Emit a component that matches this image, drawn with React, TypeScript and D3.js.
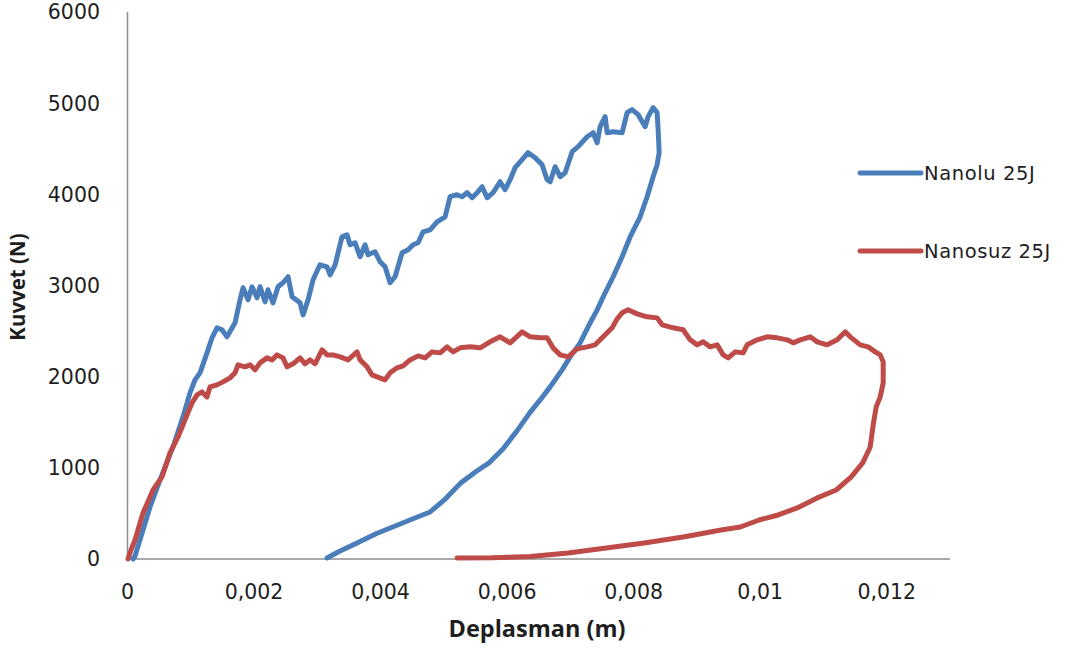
import React from "react";
import * as d3 from "d3";

// Deplasman (m), Kuvvet (N)
const nanoluX = [0.000087,0.000119,0.000245,0.000356,0.000514,0.000719,0.000877,0.000988,0.001067,0.001146,0.001257,0.001336,0.001415,0.001494,0.001573,0.0017,0.001779,0.001826,0.001905,0.001968,0.002047,0.002095,0.002174,0.002221,0.0023,0.002379,0.002458,0.002538,0.002601,0.002664,0.002727,0.002775,0.002854,0.002933,0.003043,0.003154,0.003202,0.003281,0.003391,0.00347,0.003518,0.003597,0.003676,0.003755,0.003802,0.003913,0.003992,0.004071,0.00415,0.004229,0.00434,0.004435,0.004514,0.004593,0.004672,0.004783,0.004893,0.00502,0.005099,0.005209,0.005288,0.005368,0.005447,0.005526,0.005605,0.005684,0.005779,0.005889,0.005968,0.006047,0.006126,0.006237,0.006332,0.006443,0.006553,0.006632,0.00668,0.006759,0.006838,0.006917,0.007028,0.007122,0.007265,0.00736,0.007423,0.00747,0.007549,0.007581,0.007676,0.007818,0.007897,0.007976,0.008071,0.008182,0.008229,0.008308,0.008371,0.008387,0.008403,0.008371,0.008308,0.008213,0.008103,0.007945,0.007818,0.007676,0.007549,0.007423,0.00728,0.007154,0.006996,0.006869,0.00668,0.006522,0.006357,0.00615,0.005937,0.005725,0.00551,0.005268,0.005026,0.004783,0.004542,0.00424,0.003937,0.003628,0.003328,0.003154];
const nanoluY = [0,33,318,571,867,1229,1559,1822,1965,2042,2261,2426,2536,2514,2437,2591,2843,2975,2843,2986,2865,2986,2821,2953,2810,2986,3030,3096,2876,2843,2810,2678,2843,3063,3227,3205,3117,3227,3535,3557,3447,3469,3315,3447,3337,3370,3260,3205,3030,3096,3359,3392,3447,3469,3589,3611,3699,3754,3974,3996,3974,4018,3963,4018,4083,3963,4018,4138,4051,4160,4292,4380,4457,4402,4325,4160,4138,4303,4193,4237,4468,4523,4632,4676,4566,4742,4852,4676,4687,4676,4896,4929,4874,4742,4852,4951,4896,4709,4457,4325,4193,3974,3754,3535,3315,3096,2920,2733,2547,2371,2217,2075,1888,1745,1603,1400,1210,1060,960,835,660,516,450,365,280,176,77,11];

const nanosuzX = [0.000008,0.000055,0.000119,0.000245,0.000403,0.000545,0.000672,0.000798,0.000941,0.00102,0.001099,0.001178,0.001257,0.001304,0.001415,0.00151,0.00162,0.0017,0.001747,0.001858,0.001937,0.002016,0.002095,0.002205,0.002285,0.002364,0.002458,0.002522,0.002617,0.002727,0.002806,0.002885,0.002964,0.003075,0.003154,0.003249,0.00336,0.003486,0.003628,0.003676,0.003786,0.003865,0.003945,0.004071,0.00415,0.004261,0.004356,0.004466,0.004593,0.004704,0.004814,0.004941,0.005051,0.005146,0.005257,0.005415,0.005573,0.005731,0.005889,0.006047,0.006237,0.006364,0.006522,0.006632,0.006727,0.006838,0.006964,0.007107,0.007265,0.007391,0.007518,0.00766,0.007739,0.007818,0.007913,0.008055,0.008213,0.008371,0.00845,0.008624,0.008782,0.008893,0.009004,0.009099,0.009209,0.00932,0.009415,0.009494,0.009605,0.009731,0.009794,0.009952,0.01011,0.010269,0.010427,0.010522,0.010632,0.01079,0.010901,0.011059,0.011217,0.011344,0.011423,0.011581,0.011707,0.011818,0.011897,0.011944,0.011944,0.011897,0.011834,0.011786,0.011739,0.01162,0.011439,0.011201,0.010901,0.010585,0.010284,0.009984,0.009684,0.009383,0.008782,0.008166,0.007565,0.006964,0.006364,0.005747,0.005209];
const nanosuzY = [0,99,209,505,757,900,1164,1339,1581,1712,1800,1833,1778,1888,1910,1943,1987,2042,2130,2108,2130,2075,2151,2206,2184,2239,2206,2108,2141,2206,2141,2184,2141,2294,2239,2239,2217,2184,2272,2184,2108,2020,1998,1965,2042,2097,2119,2184,2228,2206,2272,2261,2327,2272,2316,2327,2316,2382,2437,2371,2492,2437,2426,2426,2316,2239,2217,2305,2327,2349,2437,2536,2634,2700,2733,2689,2656,2645,2569,2536,2514,2404,2349,2382,2327,2349,2239,2206,2272,2261,2349,2404,2437,2426,2404,2371,2404,2437,2382,2349,2404,2492,2437,2349,2327,2272,2239,2162,1932,1778,1669,1471,1229,1054,900,757,670,560,483,428,351,318,241,176,121,66,27,14,11];

const xTicks = [0, 0.002, 0.004, 0.006, 0.008, 0.01, 0.012];
const xTickLabels = ["0", "0,002", "0,004", "0,006", "0,008", "0,01", "0,012"];
const yTicks = [0, 1000, 2000, 3000, 4000, 5000, 6000];
const seriesNames = ["Nanolu 25J", "Nanosuz 25J"];
const seriesColors = ["#4a7ebb", "#be4b48"];

export default function App() {
  const W = 1078, H = 648;
  const x = d3.scaleLinear().domain([0, 0.013]).range([127.5, 950]);
  const y = d3.scaleLinear().domain([0, 6000]).range([559, 12]);
  const line = d3.line<[number, number]>().x(d => x(d[0])).y(d => y(d[1]));
  const series = [
    nanoluX.map((v, i) => [v, nanoluY[i]] as [number, number]),
    nanosuzX.map((v, i) => [v, nanosuzY[i]] as [number, number]),
  ];
  const tickFont = "'DejaVu Sans', Verdana, sans-serif";
  const titleFont = "'Open Sans', 'DejaVu Sans', sans-serif";
  return (
    <svg width={W} height={H} style={{ position: "absolute", left: 0, top: 0, background: "#fff" }}>
      <rect width={W} height={H} fill="#fff" />
      <line x1={x(0)} x2={x(0)} y1={y(6000)} y2={y(0)} stroke="#8c8c8c" strokeWidth={1.5} />
      <line x1={x(0)} x2={950} y1={y(0)} y2={y(0)} stroke="#8c8c8c" strokeWidth={1.5} />
      {yTicks.map(t => (
        <text key={t} x={100} y={y(t)} dy="0.36em" textAnchor="end" fontFamily={tickFont} fontSize={20.5} fill="#1e1e1e">{t}</text>
      ))}
      {xTicks.map((t, i) => (
        <text key={t} x={x(t)} y={592} dy="0.36em" textAnchor="middle" fontFamily={tickFont} fontSize={20.5} fill="#1e1e1e">{xTickLabels[i]}</text>
      ))}
      <text x={537} y={637} textAnchor="middle" fontFamily={titleFont} fontWeight="bold" fontSize={23.5} fill="#1e1e1e">Deplasman (m)</text>
      <text transform="translate(25,287) rotate(-90)" textAnchor="middle" fontFamily={titleFont} fontWeight="bold" fontSize={20.5} fill="#1e1e1e">Kuvvet (N)</text>
      {series.map((s, i) => (
        <path key={i} d={line(s) || ""} fill="none" stroke={seriesColors[i]} strokeWidth={5} strokeLinejoin="round" strokeLinecap="round" />
      ))}
      {seriesNames.map((n, i) => {
        const ly = i === 0 ? 173 : 251;
        return (
          <g key={n}>
            <line x1={860} x2={921} y1={ly} y2={ly} stroke={seriesColors[i]} strokeWidth={5} strokeLinecap="round" />
            <text x={924} y={ly} dy="0.36em" fontFamily={tickFont} fontSize={19.5} fill="#1e1e1e" letterSpacing={0.6}>{n}</text>
          </g>
        );
      })}
    </svg>
  );
}
